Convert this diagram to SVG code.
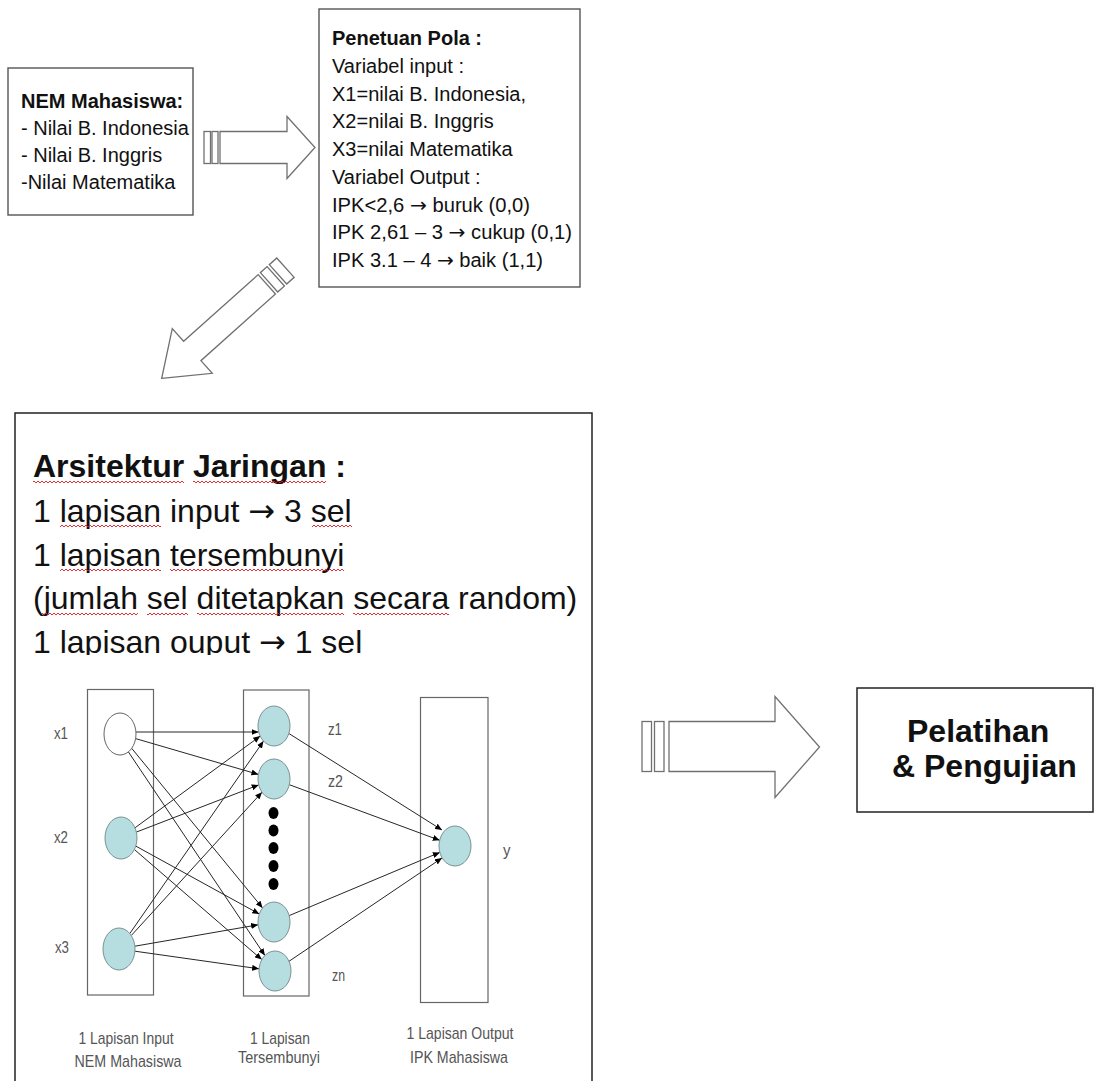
<svg xmlns="http://www.w3.org/2000/svg" width="1097" height="1081" viewBox="0 0 1097 1081">
<style>
.bg{fill:#fff}
.box{fill:#fff;stroke:#555;stroke-width:1.4}
.dbox{fill:#fff;stroke:#222;stroke-width:1.5}
.arw{fill:#fff;stroke:#707070;stroke-width:1.3}
.t{font-family:"Liberation Sans",Arial,sans-serif;fill:#111}
.t20{font-size:20px}
.t32{font-size:32px}
.b{font-weight:bold}
.ar{font-family:"DejaVu Sans",sans-serif}
.lay{fill:none;stroke:#666;stroke-width:1.2}
.nd{fill:#b6dde0;stroke:#7b9294;stroke-width:1}
.nw{fill:#fff;stroke:#666;stroke-width:1}
.dot{fill:#000}
.lk{stroke:#262626;stroke-width:1;fill:none;marker-end:url(#ah)}
.lb{font-family:"Liberation Sans",Arial,sans-serif;font-size:17px;fill:#555}
.sq{fill:url(#sq)}
</style>
<defs>
<marker id="ah" markerWidth="7" markerHeight="6" refX="7" refY="3" orient="auto" markerUnits="userSpaceOnUse">
<path d="M0,0 L7,3 L0,6 Z" fill="#000"/>
</marker>
<pattern id="sq" width="4" height="4" patternUnits="userSpaceOnUse">
<path d="M0,3 L2,1 L4,3" fill="none" stroke="#e8141c" stroke-width="0.9"/>
</pattern>
<clipPath id="cl"><rect x="0" y="400" width="600" height="255"/></clipPath>
</defs>
<rect class="bg" x="0" y="0" width="1097" height="1081"/>

<g id="nem">
<rect class="box" x="8" y="68" width="185" height="147"/>
<text class="t t20 b" x="21" y="108">NEM Mahasiswa:</text>
<text class="t t20" x="21" y="135">- Nilai B. Indonesia</text>
<text class="t t20" x="21" y="162">- Nilai B. Inggris</text>
<text class="t t20" x="21" y="189">-Nilai Matematika</text>
</g>

<g id="pola">
<rect class="box" x="319" y="9" width="261" height="278"/>
<text class="t t20 b" x="332" y="45">Penetuan Pola :</text>
<text class="t t20" x="332" y="72.75">Variabel input :</text>
<text class="t t20" x="332" y="100.5">X1=nilai B. Indonesia,</text>
<text class="t t20" x="332" y="128.25">X2=nilai B. Inggris</text>
<text class="t t20" x="332" y="156">X3=nilai Matematika</text>
<text class="t t20" x="332" y="183.75">Variabel Output :</text>
<text class="t t20" x="332" y="211.5" textLength="198" lengthAdjust="spacingAndGlyphs">IPK&lt;2,6 <tspan class="ar">→</tspan> buruk (0,0)</text>
<text class="t t20" x="332" y="239.25" textLength="240" lengthAdjust="spacingAndGlyphs">IPK 2,61 – 3 <tspan class="ar">→</tspan> cukup (0,1)</text>
<text class="t t20" x="332" y="267" textLength="211" lengthAdjust="spacingAndGlyphs">IPK 3.1 – 4 <tspan class="ar">→</tspan> baik (1,1)</text>
</g>

<g id="arsitektur">
<rect class="dbox" x="15" y="413" width="577" height="700"/>
<g clip-path="url(#cl)">
<text class="t t32 b" x="33" y="477">Arsitektur Jaringan :</text>
<text class="t t32" x="33" y="522">1 lapisan input <tspan class="ar">→</tspan> 3 sel</text>
<text class="t t32" x="33" y="566">1 lapisan tersembunyi</text>
<text class="t t32" x="33" y="609">(jumlah sel ditetapkan secara random)</text>
<text class="t t32" x="33" y="653">1 lapisan ouput <tspan class="ar">→</tspan> 1 sel</text>
</g>
<rect class="sq" x="33" y="480" width="151" height="4"/>
<rect class="sq" x="193" y="480" width="133" height="4"/>
<rect class="sq" x="60" y="524" width="101" height="4"/>
<rect class="sq" x="312" y="524" width="40" height="4"/>
<rect class="sq" x="60" y="568" width="101" height="4"/>
<rect class="sq" x="170" y="568" width="174" height="4"/>
<rect class="sq" x="42" y="612" width="96" height="4"/>
<rect class="sq" x="147" y="612" width="41" height="4"/>
<rect class="sq" x="197" y="612" width="147" height="4"/>
<rect class="sq" x="353" y="612" width="96" height="4"/>
</g>

<g id="network">
<g id="layers">
<rect class="lay" x="87.5" y="689.5" width="66" height="305.5"/>
<rect class="lay" x="243.5" y="690" width="65.5" height="306"/>
<rect class="lay" x="420.5" y="697.5" width="67.5" height="305"/>
</g>
<g id="links">
<path class="lk" d="M136,732 L258.5,732"/>
<path class="lk" d="M135.6,738.6 L258.4,774.4"/>
<path class="lk" d="M131.7,748.3 L262.6,908"/>
<path class="lk" d="M128.4,751.9 L264.9,955.5"/>
<path class="lk" d="M135,827.8 L260.2,736.1"/>
<path class="lk" d="M136.3,832.1 L258.7,784.9"/>
<path class="lk" d="M135.8,846.1 L259.3,914"/>
<path class="lk" d="M134.4,849.5 L261.8,959.6"/>
<path class="lk" d="M129.8,933.5 L263.5,741.1"/>
<path class="lk" d="M131.3,935.5 L262,792.2"/>
<path class="lk" d="M134.9,946.2 L258.1,924.8"/>
<path class="lk" d="M134.9,951.2 L259.1,968.8"/>
<path class="lk" d="M288.1,733 L442,830"/>
<path class="lk" d="M289.3,784.7 L439.7,840.3"/>
<path class="lk" d="M289.2,915.6 L439.8,852.4"/>
<path class="lk" d="M289,961.3 L442,858"/>
</g>
<g id="x1"><ellipse class="nw" cx="120" cy="734" rx="16" ry="21"/><text class="lb" x="54" y="739" textLength="14" lengthAdjust="spacingAndGlyphs">x1</text></g>
<g id="x2"><ellipse class="nd" cx="121" cy="838" rx="16" ry="21"/><text class="lb" x="54" y="843" textLength="14" lengthAdjust="spacingAndGlyphs">x2</text></g>
<g id="x3"><ellipse class="nd" cx="119" cy="949" rx="16" ry="21"/><text class="lb" x="55" y="953" textLength="14" lengthAdjust="spacingAndGlyphs">x3</text></g>
<g id="z1"><ellipse class="nd" cx="274" cy="726" rx="16" ry="20"/><text class="lb" x="328" y="735" textLength="14" lengthAdjust="spacingAndGlyphs">z1</text></g>
<g id="z2"><ellipse class="nd" cx="274" cy="779" rx="16" ry="20"/><text class="lb" x="328" y="787" textLength="15" lengthAdjust="spacingAndGlyphs">z2</text></g>
<g id="dots">
<ellipse class="dot" cx="273.5" cy="813" rx="5" ry="6"/>
<ellipse class="dot" cx="273.5" cy="830.5" rx="5" ry="6"/>
<ellipse class="dot" cx="273.5" cy="848" rx="5" ry="6"/>
<ellipse class="dot" cx="273.5" cy="866" rx="5" ry="6"/>
<ellipse class="dot" cx="273.5" cy="884" rx="5" ry="6"/>
</g>
<g id="z3"><ellipse class="nd" cx="274" cy="922" rx="16" ry="20"/></g>
<g id="zn"><ellipse class="nd" cx="275" cy="971" rx="16" ry="20"/><text class="lb" x="332" y="981" textLength="13" lengthAdjust="spacingAndGlyphs">zn</text></g>
<g id="y"><ellipse class="nd" cx="455" cy="846" rx="16" ry="20"/><text class="lb" x="503" y="856" textLength="7.5" lengthAdjust="spacingAndGlyphs">y</text></g>
<g id="labels">
<text class="lb" x="126" y="1044" text-anchor="middle" textLength="95" lengthAdjust="spacingAndGlyphs">1 Lapisan Input</text>
<text class="lb" x="128" y="1067" text-anchor="middle" textLength="107" lengthAdjust="spacingAndGlyphs">NEM Mahasiswa</text>
<text class="lb" x="280" y="1044" text-anchor="middle" textLength="60" lengthAdjust="spacingAndGlyphs">1 Lapisan</text>
<text class="lb" x="279" y="1063" text-anchor="middle" textLength="82" lengthAdjust="spacingAndGlyphs">Tersembunyi</text>
<text class="lb" x="460" y="1039" text-anchor="middle" textLength="107" lengthAdjust="spacingAndGlyphs">1 Lapisan Output</text>
<text class="lb" x="459" y="1063" text-anchor="middle" textLength="98" lengthAdjust="spacingAndGlyphs">IPK Mahasiswa</text>
</g>
</g>

<g id="pelatihan">
<rect class="dbox" x="857" y="688" width="236" height="124"/>
<text class="t t32 b" x="907" y="742">Pelatihan</text>
<text class="t t32 b" x="892" y="777">&amp; Pengujian</text>
</g>

<g id="connectors">
<g id="arrow1">
<rect class="arw" x="204" y="131.5" width="6.5" height="32"/>
<rect class="arw" x="212" y="131.5" width="6" height="32"/>
<path class="arw" d="M220,131.5 H287 V116.5 L315,147.5 L287,178.5 V163.5 H220 Z"/>
</g>
<g id="arrow2" transform="translate(161.7,378.3) rotate(138.2)">
<rect class="arw" x="-153" y="-13" width="9" height="26"/>
<rect class="arw" x="-166" y="-13" width="10" height="26"/>
<path class="arw" d="M0,0 L-41,-30 L-41,-13 L-141,-13 L-141,13 L-41,13 L-41,30 Z"/>
</g>
<g id="arrow3">
<rect class="arw" x="642" y="721.5" width="9.5" height="50"/>
<rect class="arw" x="654.5" y="721.5" width="9.5" height="50"/>
<path class="arw" d="M669,721.5 H775 V696.5 L819.5,747 L775,797.5 V771.5 H669 Z"/>
</g>
</g>
</svg>
